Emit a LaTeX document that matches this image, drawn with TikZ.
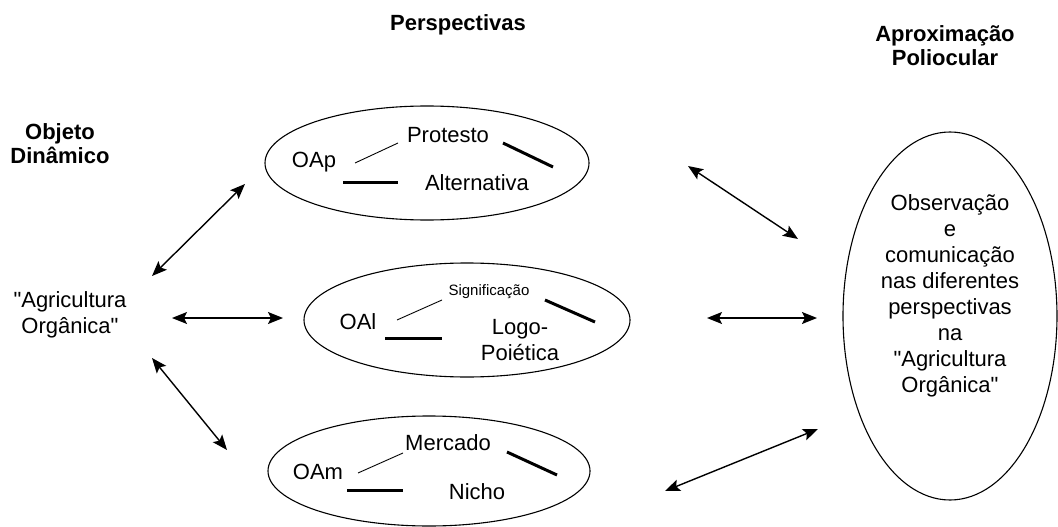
\documentclass[tikz,border=0pt]{standalone}
\usepackage{fontspec}
\setmainfont{Liberation Sans}[Ligatures=TeXOff]
\usetikzlibrary{arrows,arrows.meta,shapes}
\newcommand{\aspas}{\symbol{34}}
\tikzstyle{oval} = [draw, ellipse, line width=1.1pt, inner sep=0pt]
\tikzstyle{txt} = [font=\fontsize{22}{26}\selectfont, align=center, inner sep=0pt]
\tikzstyle{pequeno} = [font=\fontsize{15}{18}\selectfont, inner sep=0pt]
\tikzstyle{ttl} = [font=\bfseries\fontsize{22}{24}\selectfont, align=center, inner sep=0pt]
\tikzstyle{fino} = [line width=0.9pt]
\tikzstyle{grosso} = [line width=3pt]
\tikzstyle{seta} = [{Stealth[length=15pt,width=12pt,inset=3pt]}-{Stealth[length=15pt,width=12pt,inset=3pt]}, line width=1.4pt]

\begin{document}
\begin{tikzpicture} [x=1pt, y=-1pt]

	\useasboundingbox (0,0) rectangle (1058,527);

	% titulos
	\node[ttl] (tPersp) at (458,25) {Perspectivas};
	\node[ttl] (tAprox) at (945,46) {Aproximação\\Poliocular};
	\node[ttl] (tObj) at (60,144) {Objeto\\Dinâmico};
	\node[txt] (ao) at (70,315) {\aspas Agricultura\\Orgânica\aspas};

	% elipses
	\node[oval, minimum width=324pt, minimum height=114pt] (eP) at (427,163) {};
	\node[oval, minimum width=326pt, minimum height=114pt] (eL) at (467,320) {};
	\node[oval, minimum width=322pt, minimum height=110pt] (eM) at (429,471) {};
	\node[oval, minimum width=214pt, minimum height=368pt] (eObs) at (950,316) {};

	% OAp
	\node[txt] (oap) at (314,162) {OAp};
	\node[txt] (protesto) at (448,135) {Protesto};
	\node[txt] (alternativa) at (477,183) {Alternativa};
	\draw[fino] (355,163) -- (398,143);
	\draw[grosso] (343,182) -- (398,182);
	\draw[grosso] (503,143) -- (553,167);

	% OAl
	\node[txt] (oal) at (358,322) {OAl};
	\node[pequeno] (signif) at (489,292) {Significação};
	\node[txt] (logo) at (520,340) {Logo-\\Poiética};
	\draw[fino] (397,320) -- (442,300);
	\draw[grosso] (385,338) -- (442,338);
	\draw[grosso] (545,300) -- (595,322);

	% OAm
	\node[txt] (oam) at (318,472) {OAm};
	\node[txt] (mercado) at (448,443) {Mercado};
	\node[txt] (nicho) at (477,492) {Nicho};
	\draw[fino] (358,473) -- (403,453);
	\draw[grosso] (347,490) -- (403,490);
	\draw[grosso] (507,452) -- (557,475);

	\node[txt] (obs) at (950,296) {Observação\\e\\comunicação\\nas diferentes\\perspectivas\\na\\\aspas Agricultura\\Orgânica\aspas};

	\coordinate (L1) at (152,276);
	\coordinate (P1) at (245,184);
	\coordinate (L2) at (172,318);
	\coordinate (P2) at (283,318);
	\coordinate (L3) at (152,358);
	\coordinate (P3) at (227,450);

	\coordinate (Q1) at (688,166);
	\coordinate (R1) at (798,239);
	\coordinate (Q2) at (707,318);
	\coordinate (R2) at (817,318);
	\coordinate (Q3) at (665,491);
	\coordinate (R3) at (818,429);

	\draw[seta] (L1) -- (P1);
	\draw[seta] (L2) -- (P2);
	\draw[seta] (L3) -- (P3);
	\draw[seta] (Q1) -- (R1);
	\draw[seta] (Q2) -- (R2);
	\draw[seta] (Q3) -- (R3);

\end{tikzpicture}
\end{document}
